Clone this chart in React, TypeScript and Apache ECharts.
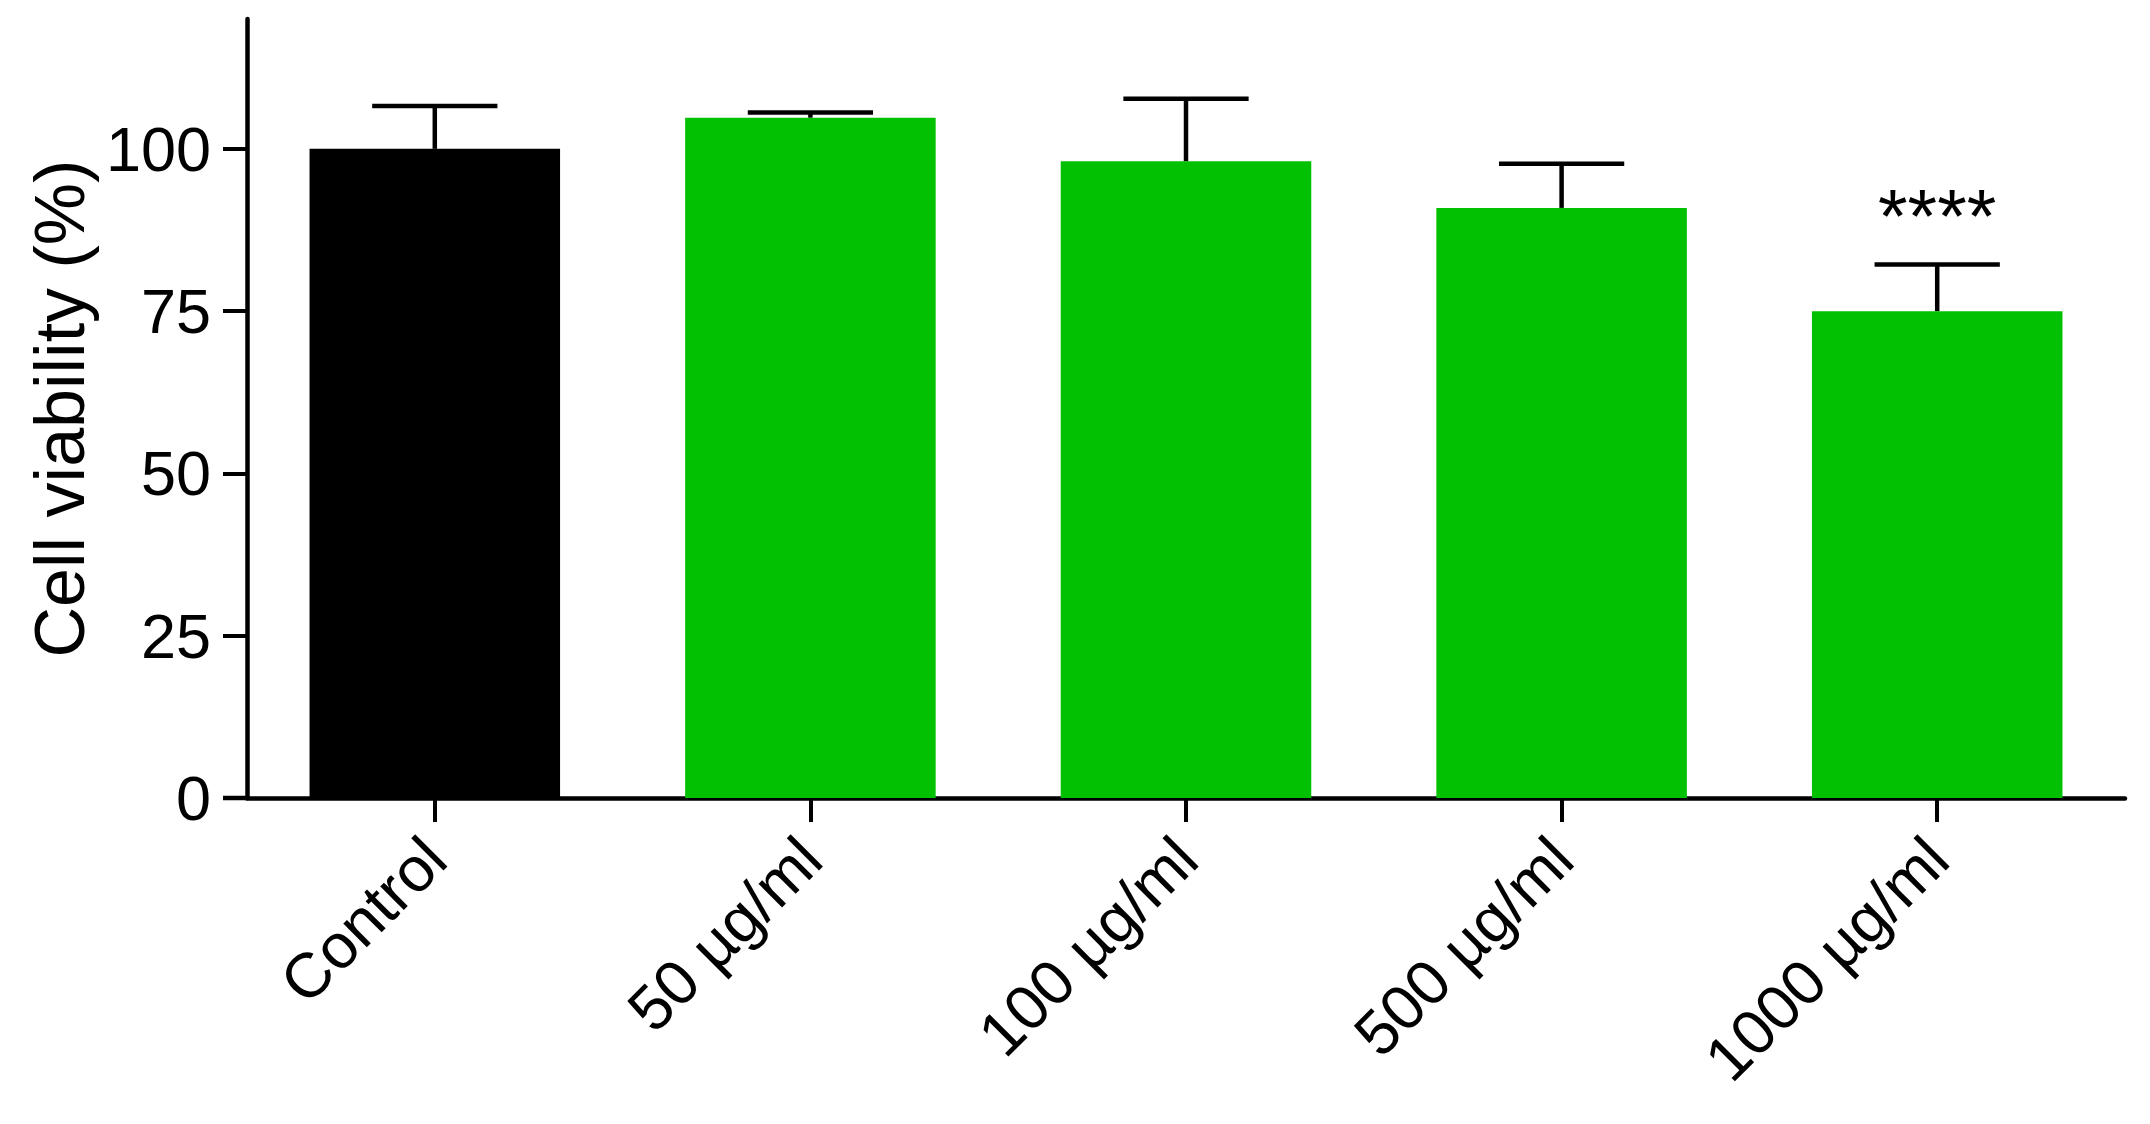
import React, { useEffect, useRef } from "react";
import * as echarts from "echarts";

const categories = ["Control", "50 µg/ml", "100 µg/ml", "500 µg/ml", "1000 µg/ml"];
const means = [100, 104.8, 98.1, 90.9, 75.0];
const sds = [6.6, 0.8, 9.6, 6.8, 7.2];
const significance = ["", "", "", "", "****"];
const barColors = ["#000000", "#02C002", "#02C002", "#02C002", "#02C002"];
const yTicks = [0, 25, 50, 75, 100];

const FONT = "Liberation Sans, Arial, Helvetica, sans-serif";

export default function App() {
  const ref = useRef<HTMLDivElement>(null);
  useEffect(() => {
    document.body.style.margin = "0";
    if (!ref.current) return;
    const chart = echarts.init(ref.current, undefined, { renderer: "svg" });
    const gridLeft = 247;
    const gridRight = 25;
    const gridTop = 19;
    const gridBottom = 326;
    const axisY = 1124 - gridBottom;
    chart.setOption({
      animation: false,
      backgroundColor: "#ffffff",
      textStyle: { fontFamily: FONT },
      grid: { left: gridLeft, right: gridRight, top: gridTop, bottom: gridBottom, containLabel: false },
      xAxis: {
        type: "category",
        data: categories,
        axisLine: { lineStyle: { color: "#000", width: 4.5 } },
        axisTick: { show: true, alignWithLabel: true, length: 24, lineStyle: { color: "#000", width: 4 } },
        axisLabel: {
          rotate: 45,
          color: "#000",
          fontSize: 63,
          fontFamily: FONT,
          margin: 50,
          interval: 0,
        },
        splitLine: { show: false },
      },
      yAxis: {
        type: "value",
        min: 0,
        max: 120,
        name: "Cell viability (%)",
        nameLocation: "middle",
        nameGap: 152,
        nameTextStyle: { color: "#000", fontSize: 70, fontFamily: FONT },
        axisLine: { show: true, lineStyle: { color: "#000", width: 4.5 } },
        axisTick: { show: true, length: 24, lineStyle: { color: "#000", width: 4 }, customValues: yTicks },
        axisLabel: { color: "#000", fontSize: 63, fontFamily: FONT, margin: 36, customValues: yTicks },
        splitLine: { show: false },
      },
      graphic: [
        {
          type: "line",
          shape: { x1: gridLeft - 24, y1: axisY, x2: gridLeft, y2: axisY },
          style: { stroke: "#000", lineWidth: 4.5 },
          z: 100,
        },
      ],
      series: [
        {
          type: "bar",
          barWidth: "66.7%",
          data: means.map((v, i) => ({ value: v, itemStyle: { color: barColors[i] } })),
          z: 2,
        },
        {
          type: "custom",
          z: 3,
          data: means.map((m, i) => [i, m, m + sds[i]]),
          renderItem: (params: any, api: any) => {
            const idx = api.value(0);
            const base = api.coord([idx, api.value(1)]);
            const top = api.coord([idx, api.value(2)]);
            const band = api.size([1, 0])[0];
            const half = (band * 0.667) / 4;
            const children: any[] = [
              {
                type: "line",
                shape: { x1: base[0], y1: base[1], x2: top[0], y2: top[1] },
                style: { stroke: "#000", lineWidth: 4.5 },
              },
              {
                type: "line",
                shape: { x1: top[0] - half, y1: top[1], x2: top[0] + half, y2: top[1] },
                style: { stroke: "#000", lineWidth: 4.5 },
              },
            ];
            const sig = significance[idx];
            if (sig) {
              children.push({
                type: "text",
                x: top[0],
                y: top[1] - 49,
                style: {
                  text: sig,
                  fill: "#000",
                  font: `76px ${FONT}`,
                  align: "center",
                  verticalAlign: "middle",
                },
              });
            }
            return { type: "group", children };
          },
        },
      ],
    });
    return () => chart.dispose();
  }, []);
  return <div ref={ref} style={{ width: 2150, height: 1124 }} />;
}
